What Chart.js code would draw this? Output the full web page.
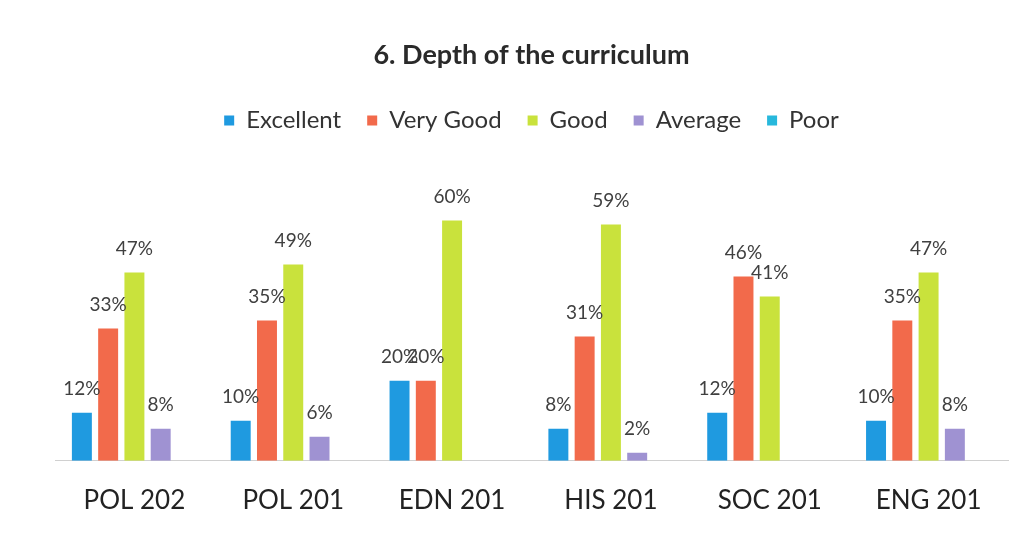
<!DOCTYPE html>
<html>
<head>
<meta charset="utf-8">
<script src="https://cdn.jsdelivr.net/npm/chart.js@4/dist/chart.umd.min.js"></script>
<style>
  html, body { margin: 0; padding: 0; background: #ffffff; }
  #wrap { width: 1032px; height: 540px; position: relative; }
</style>
</head>
<body>
<div id="wrap"><canvas id="c" width="1032" height="540"></canvas></div>
<script>
const categories = ["POL 202", "POL 201", "EDN 201", "HIS 201", "SOC 201", "ENG 201"];
const seriesNames = ["Excellent", "Very Good", "Good", "Average", "Poor"];
const excellent = [12, 10, 20, 8, 12, 10];
const veryGood  = [33, 35, 20, 31, 46, 35];
const good      = [47, 49, 60, 59, 41, 47];
const average   = [8, 6, null, 2, null, 8];
const poor      = [null, null, null, null, null, null];
const colors = ["#1f9ae0", "#f26a4b", "#c9e23c", "#9f92d2", "#27b8dc"];

const valueLabels = {
  id: "valueLabels",
  afterDatasetsDraw(chart) {
    const ctx = chart.ctx;
    ctx.save();
    ctx.font = "19px Lato, 'DejaVu Sans', sans-serif";
    ctx.fillStyle = "#404040";
    ctx.textAlign = "center";
    ctx.textBaseline = "middle";
    chart.data.datasets.forEach((ds, i) => {
      const meta = chart.getDatasetMeta(i);
      meta.data.forEach((bar, j) => {
        const v = ds.data[j];
        if (v === null || v === undefined || v === 0) return;
        ctx.fillText(v + "%", bar.x, bar.y - 24);
      });
    });
    ctx.restore();
  }
};

const legendGap = {
  id: "legendGap",
  beforeInit(chart) {
    const origFit = chart.legend.fit;
    chart.legend.fit = function () {
      origFit.bind(chart.legend)();
      this.height += 38;
    };
  }
};

const allSeries = [excellent, veryGood, good, average, poor];

new Chart(document.getElementById("c"), {
  type: "bar",
  data: {
    labels: categories,
    datasets: seriesNames.map((n, i) => ({
      label: n,
      data: allSeries[i],
      backgroundColor: colors[i],
      borderWidth: 0,
      categoryPercentage: 0.827,
      barPercentage: 0.76
    }))
  },
  options: {
    responsive: false,
    animation: false,
    layout: { padding: { left: 55, right: 24, top: 0, bottom: 0 } },
    plugins: {
      title: {
        display: true,
        text: "6. Depth of the curriculum",
        color: "#2a2a2a",
        font: { family: "Lato, 'DejaVu Sans', sans-serif", size: 27, weight: "bold" },
        padding: { top: 39, bottom: 11 }
      },
      legend: {
        display: true,
        position: "top",
        labels: {
          boxWidth: 10,
          boxHeight: 10,
          padding: 26,
          color: "#333333",
          font: { family: "Lato, 'DejaVu Sans', sans-serif", size: 24 }
        }
      },
      tooltip: { enabled: false }
    },
    scales: {
      x: {
        grid: { display: false, drawTicks: false },
        border: { display: true, color: "#d0d0d0", width: 1 },
        ticks: {
          color: "#222222",
          padding: 24,
          font: { family: "Lato, 'DejaVu Sans', sans-serif", size: 26 }
        }
      },
      y: {
        display: false,
        min: 0,
        max: 70
      }
    }
  },
  plugins: [valueLabels, legendGap]
});
</script>
</body>
</html>
